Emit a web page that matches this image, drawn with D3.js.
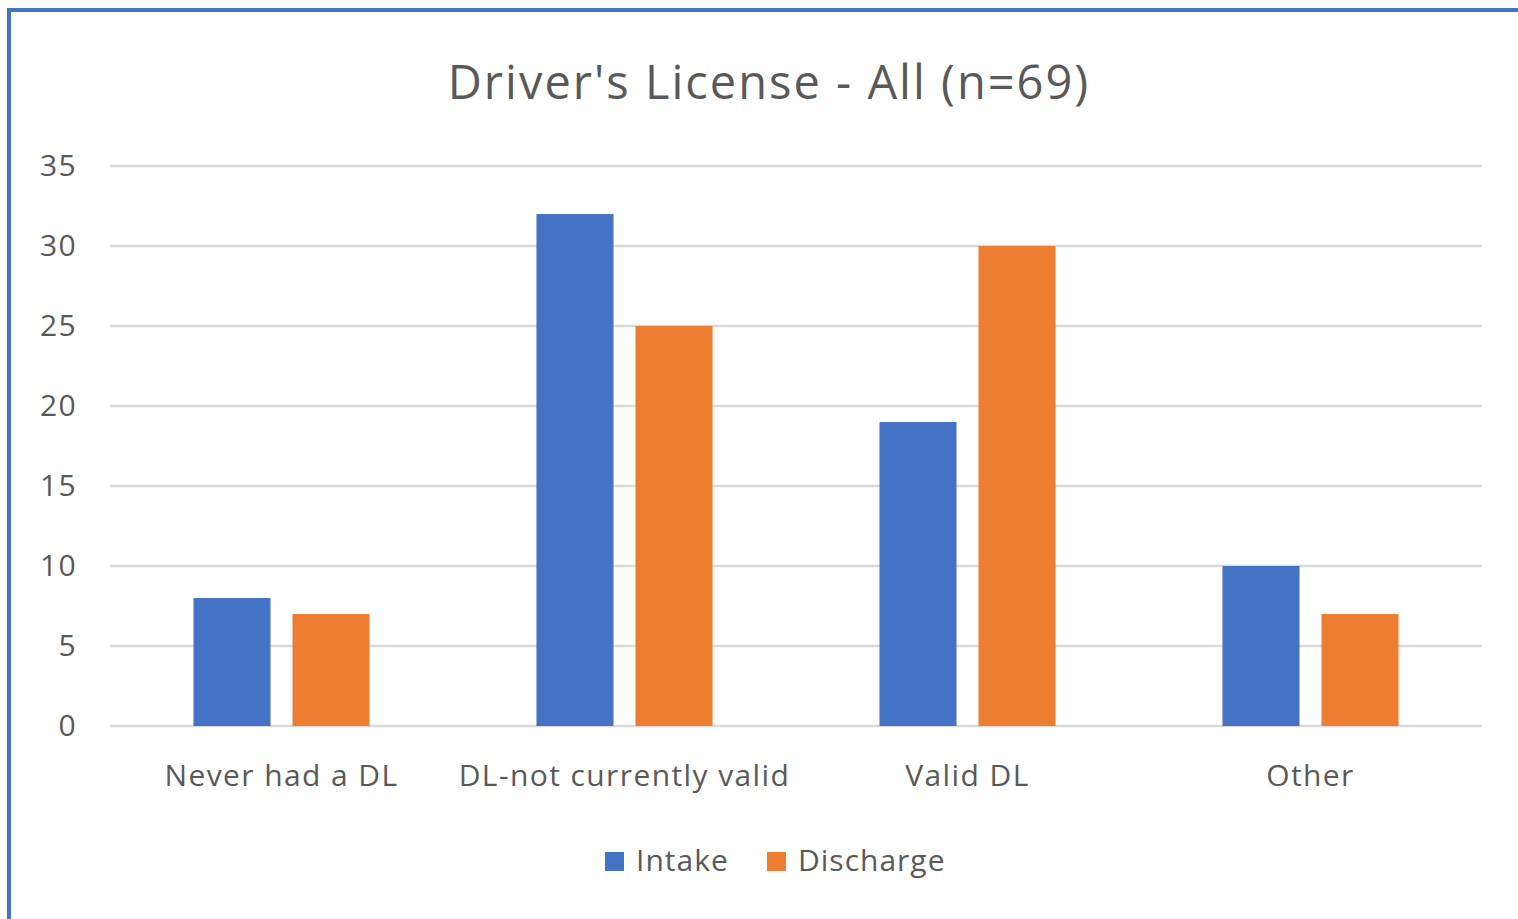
<!DOCTYPE html>
<html>
<head>
<script src="https://d3js.org/d3.v7.min.js"></script>
<style>
  body { margin: 0; background: #fff; }
  svg text { font-family: "Open Sans", "Noto Sans", sans-serif; }
  .grid line { stroke: #d9d9d9; stroke-width: 2.5; }
  .axis text { fill: #595959; font-size: 30px; letter-spacing: 1.4px; }
  .legend text { fill: #595959; font-size: 30px; letter-spacing: 1px; }
</style>
</head>
<body>
<script>
// data
var categories = ["Never had a DL", "DL-not currently valid", "Valid DL", "Other"];
var seriesNames = ["Intake", "Discharge"];
var intake = [8, 32, 19, 10];
var discharge = [7, 25, 30, 7];
var yTicks = [0, 5, 10, 15, 20, 25, 30, 35];
var colors = ["#4472C4", "#ED7D31"];

var W = 1518, H = 919;
var plot = { left: 110, right: 1482, top: 166, bottom: 726 };

var svg = d3.select("body").append("svg")
  .attr("width", W)
  .attr("height", H);

// frame (only top and left edges are in view)
svg.append("rect")
  .attr("x", 9).attr("y", 10)
  .attr("width", W + 20).attr("height", H + 20)
  .attr("fill", "#fff")
  .attr("stroke", "#4472C4")
  .attr("stroke-width", 4);

var y = d3.scaleLinear().domain([0, 35]).range([plot.bottom, plot.top]);
var x0 = d3.scaleBand().domain(categories).range([plot.left, plot.right]);
var x1 = d3.scaleBand().domain(seriesNames)
  .range([0, x0.bandwidth()])
  .paddingInner(0.222)
  .paddingOuter(0.843);

// gridlines
svg.append("g").attr("class", "grid")
  .selectAll("line")
  .data(yTicks)
  .enter().append("line")
  .attr("x1", plot.left).attr("x2", plot.right)
  .attr("y1", function (d) { return y(d); })
  .attr("y2", function (d) { return y(d); });

// y axis labels
var yAxis = svg.append("g").attr("class", "axis")
  .attr("transform", "translate(" + plot.left + ",0)")
  .call(d3.axisLeft(y).tickValues(yTicks).tickSize(0).tickPadding(33));
yAxis.select(".domain").remove();
yAxis.attr("font-family", null).attr("font-size", null);

// bars
var rows = categories.map(function (c, i) {
  return { cat: c, values: [intake[i], discharge[i]] };
});

var groups = svg.append("g").selectAll("g")
  .data(rows)
  .enter().append("g")
  .attr("transform", function (d) { return "translate(" + x0(d.cat) + ",0)"; });

groups.selectAll("rect")
  .data(function (d) {
    return d.values.map(function (v, j) { return { name: seriesNames[j], value: v, j: j }; });
  })
  .enter().append("rect")
  .attr("x", function (d) { return x1(d.name); })
  .attr("width", x1.bandwidth())
  .attr("y", function (d) { return y(d.value); })
  .attr("height", function (d) { return plot.bottom - y(d.value); })
  .attr("fill", function (d) { return colors[d.j]; });

// x axis labels
var xAxis = svg.append("g").attr("class", "axis")
  .attr("transform", "translate(0," + plot.bottom + ")")
  .call(d3.axisBottom(x0).tickSize(0).tickPadding(39));
xAxis.select(".domain").remove();
xAxis.attr("font-family", null).attr("font-size", null);

// title
svg.append("text")
  .attr("x", 769).attr("y", 99)
  .attr("text-anchor", "middle")
  .attr("fill", "#595959")
  .style("font-size", "47px")
  .style("letter-spacing", "2px")
  .text("Driver's License - All (n=69)");

// legend
var legendX = [605, 767];
var legend = svg.append("g").attr("class", "legend")
  .selectAll("g")
  .data(seriesNames)
  .enter().append("g")
  .attr("transform", function (d, i) { return "translate(" + legendX[i] + ",852)"; });

legend.append("rect")
  .attr("width", 19).attr("height", 19)
  .attr("fill", function (d, i) { return colors[i]; });

legend.append("text")
  .attr("x", 31).attr("y", 19)
  .text(function (d) { return d; });
</script>
</body>
</html>
